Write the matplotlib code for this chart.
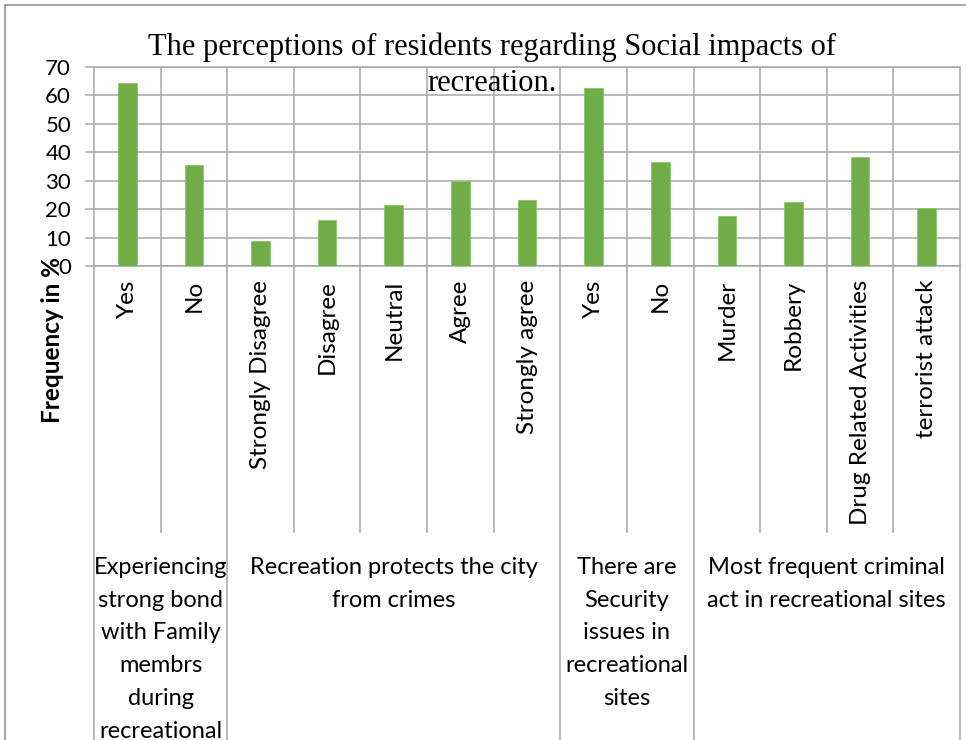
import matplotlib
matplotlib.use("Agg")
import matplotlib.pyplot as plt
from matplotlib.transforms import blended_transform_factory
from matplotlib.lines import Line2D

plt.rcParams['font.family'] = ['Lato', 'DejaVu Sans']

# ---- data ----
categories = ["Yes", "No",
              "Strongly Disagree", "Disagree", "Neutral", "Agree", "Strongly agree",
              "Yes", "No",
              "Murder", "Robbery", "Drug Related Activities", "terrorist attack"]
values = [64.3, 35.5,
          8.9, 16.1, 21.3, 29.8, 23.1,
          62.7, 36.6,
          17.7, 22.6, 38.5, 20.4]
group_labels = ["Experiencing\nstrong bond\nwith Family\nmembrs\nduring\nrecreational",
                "Recreation protects the city\nfrom crimes",
                "There are\nSecurity\nissues in\nrecreational\nsites",
                "Most frequent criminal\nact in recreational sites"]
group_sizes = [2, 5, 2, 4]
title = "The perceptions of residents regarding Social impacts of\nrecreation."
ylabel = "Frequency in %"
yticks = [0, 10, 20, 30, 40, 50, 60, 70]

W, H = 966, 740
fig = plt.figure(figsize=(W / 100, H / 100), dpi=100)

def fx(px):
    return px / W

def fy(py):
    return 1 - py / H

GRID = "#A6A6A6"
ax = fig.add_axes([fx(94), fy(266), fx(960) - fx(94), fy(67) - fy(266)])
n = len(categories)
x = list(range(n))
ax.bar(x, values, width=0.28, color="#70AD47", edgecolor="#8CC56A", linewidth=0.6, zorder=3)
ax.set_xlim(-0.5, n - 0.5)
ax.set_ylim(0, 70)
ax.set_yticks(yticks)
ax.set_yticklabels([str(v) for v in yticks], fontsize=16)
ax.tick_params(axis='y', length=6.5, width=1.1, color=GRID, pad=10)
ax.set_xticks(x)
ax.set_xticklabels(categories, rotation=90, fontsize=17.5, va='top', ha='center')
ax.tick_params(axis='x', length=0, pad=10)
ax.set_xticks([i + 0.5 for i in range(n - 1)], minor=True)
ax.grid(True, which='major', axis='y', color=GRID, linewidth=1.1, zorder=0)
ax.grid(True, which='minor', axis='x', color=GRID, linewidth=1.1, zorder=0)
ax.tick_params(axis='x', which='minor', length=0)
for s in ax.spines.values():
    s.set_color(GRID)
    s.set_linewidth(1.1)

# category separators below the axis
tr = blended_transform_factory(ax.transData, fig.transFigure)
bounds = [-0.5]
for g in group_sizes:
    bounds.append(bounds[-1] + g)
group_set = set(bounds)
for b in [i - 0.5 for i in range(n + 1)]:
    y_end = 0.0 if b in group_set else fy(532)
    ax.add_line(Line2D([b, b], [fy(266), y_end], transform=tr, color=GRID,
                       linewidth=1.1, clip_on=False))

# group labels
for i, lab in enumerate(group_labels):
    c = (bounds[i] + bounds[i + 1]) / 2
    ax.text(c, fy(557), lab, transform=tr, ha='center', va='top', fontsize=17,
            linespacing=1.69, clip_on=False)

# y label
fig.text(fx(53), fy(340), ylabel, rotation=90, ha='center', va='center',
         fontsize=17.5, fontweight='bold')

# title
fig.text(fx(492), fy(32), title, ha='center', va='top', fontsize=22,
         family='Liberation Serif', linespacing=1.33)

# outer chart border
fig.add_artist(Line2D([fx(5), 1.0], [fy(5), fy(5)], color="#8C8C8C", linewidth=1.1))
fig.add_artist(Line2D([fx(5), fx(5)], [fy(5), 0.0], color="#8C8C8C", linewidth=1.1))

fig.savefig("out.png", dpi=100)
